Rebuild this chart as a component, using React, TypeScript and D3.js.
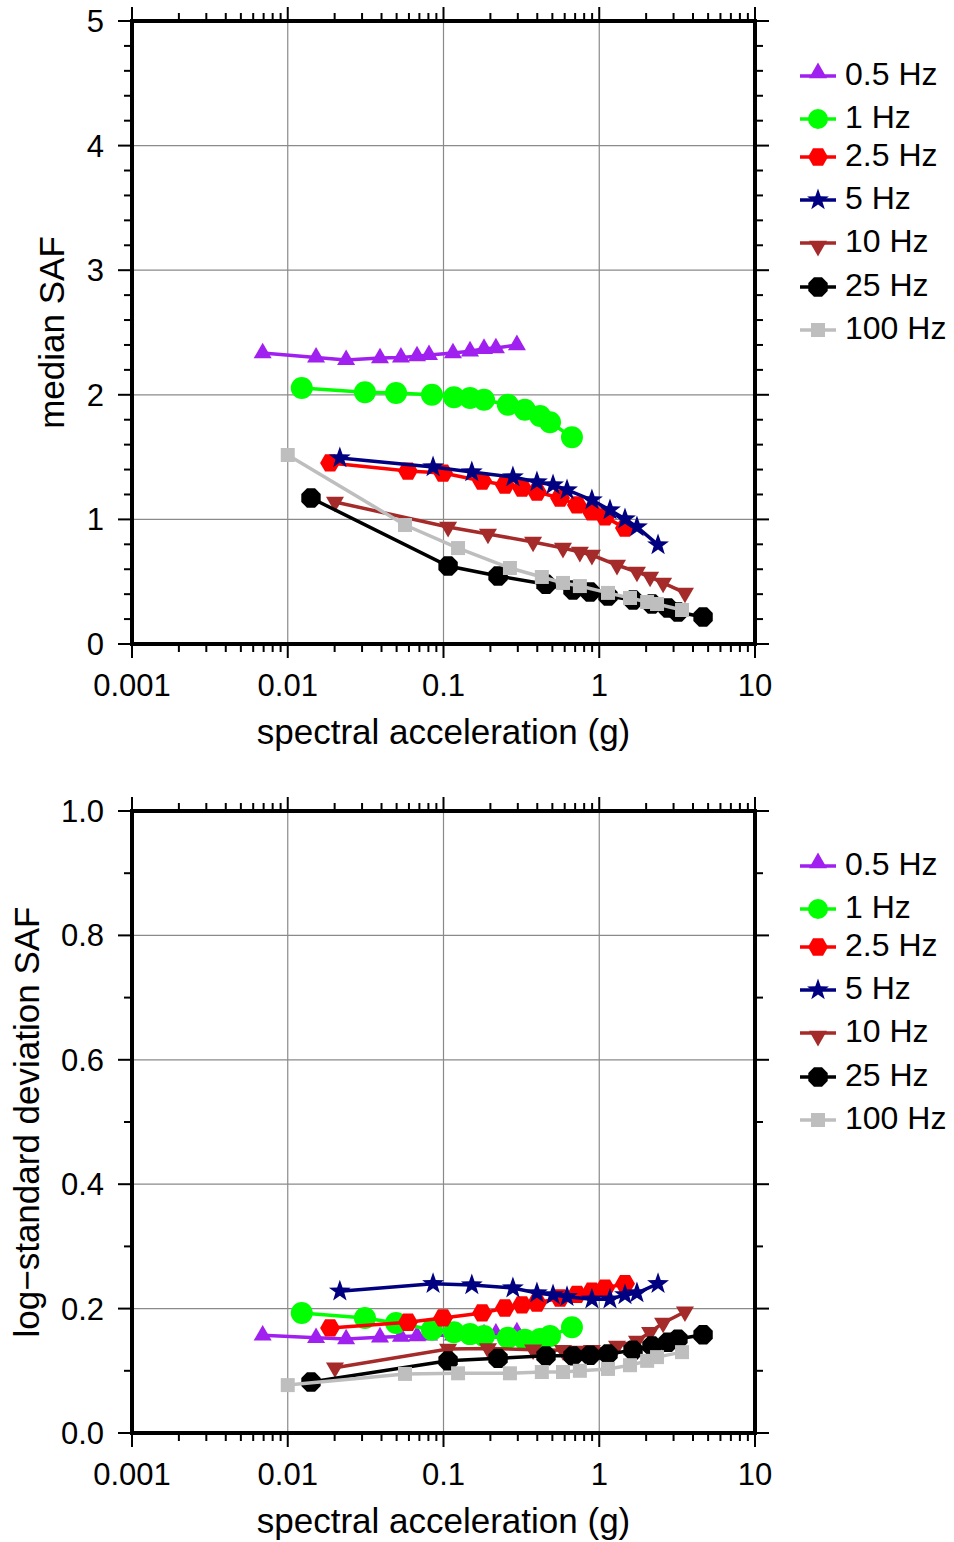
import React from "react";
import * as d3 from "d3";

// ---------- data ----------
const seriesNames = ["0.5 Hz", "1 Hz", "2.5 Hz", "5 Hz", "10 Hz", "25 Hz", "100 Hz"];
const seriesColors = ["#A020F0", "#00FF00", "#FF0000", "#000080", "#A52A2A", "#000000", "#BEBEBE"];
const seriesShapes = ["triUp", "circle", "hexagon", "star", "triDown", "octagon", "square"];

const sa05 = [0.0069, 0.0152, 0.0237, 0.0391, 0.0533, 0.0676, 0.0807, 0.115, 0.148, 0.182, 0.217, 0.296];
const sa1 = [0.0123, 0.0313, 0.0496, 0.0843, 0.1167, 0.148, 0.182, 0.259, 0.333, 0.417, 0.483, 0.668];
const sa25 = [0.0187, 0.0591, 0.0993, 0.177, 0.248, 0.319, 0.398, 0.56, 0.719, 0.897, 1.089, 1.463];
const sa5 = [0.0216, 0.0857, 0.152, 0.279, 0.398, 0.505, 0.621, 0.897, 1.172, 1.463, 1.746, 2.385];
const sa10 = [0.0201, 0.107, 0.193, 0.376, 0.585, 0.751, 0.897, 1.3, 1.746, 2.12, 2.57, 3.55];
const sa25Hz = [0.0141, 0.107, 0.224, 0.455, 0.678, 0.873, 1.138, 1.648, 2.18, 2.76, 3.2, 4.64];
const sa100 = [0.01, 0.0566, 0.124, 0.267, 0.428, 0.585, 0.751, 1.138, 1.575, 2.03, 2.35, 3.4];

const median05 = [2.335, 2.3, 2.28, 2.295, 2.3, 2.31, 2.32, 2.335, 2.35, 2.37, 2.375, 2.4];
const median1 = [2.055, 2.02, 2.015, 2.0, 1.98, 1.975, 1.96, 1.92, 1.88, 1.83, 1.78, 1.66];
const median25 = [1.453, 1.388, 1.372, 1.308, 1.276, 1.252, 1.22, 1.172, 1.116, 1.06, 1.02, 0.93];
const median5 = [1.493, 1.42, 1.38, 1.34, 1.3, 1.276, 1.236, 1.156, 1.075, 1.003, 0.939, 0.795];
const median10 = [1.14, 0.939, 0.883, 0.819, 0.77, 0.738, 0.714, 0.634, 0.578, 0.538, 0.49, 0.41];
const median25Hz = [1.172, 0.626, 0.546, 0.48, 0.433, 0.417, 0.385, 0.353, 0.321, 0.289, 0.257, 0.217];
const median100 = [1.517, 0.955, 0.77, 0.61, 0.538, 0.49, 0.465, 0.41, 0.369, 0.337, 0.321, 0.273];

const sigma05 = [0.157, 0.153, 0.151, 0.154, 0.155, 0.156, 0.157, 0.157, 0.158, 0.159, 0.16, 0.162];
const sigma1 = [0.193, 0.185, 0.177, 0.166, 0.162, 0.159, 0.156, 0.153, 0.15, 0.151, 0.156, 0.17];
const sigma25 = [0.169, 0.178, 0.185, 0.193, 0.201, 0.206, 0.209, 0.217, 0.223, 0.228, 0.233, 0.24];
const sigma5 = [0.228, 0.24, 0.238, 0.233, 0.225, 0.222, 0.219, 0.215, 0.215, 0.222, 0.225, 0.24];
const sigma10 = [0.105, 0.135, 0.136, 0.134, 0.133, 0.132, 0.133, 0.14, 0.148, 0.162, 0.177, 0.195];
const sigma25Hz = [0.082, 0.116, 0.12, 0.124, 0.124, 0.125, 0.127, 0.133, 0.14, 0.146, 0.151, 0.158];
const sigma100 = [0.077, 0.095, 0.096, 0.096, 0.098, 0.098, 0.1, 0.103, 0.109, 0.116, 0.122, 0.13];

const saSeries = [sa05, sa1, sa25, sa5, sa10, sa25Hz, sa100];
const medianSeries = [median05, median1, median25, median5, median10, median25Hz, median100];
const sigmaSeries = [sigma05, sigma1, sigma25, sigma5, sigma10, sigma25Hz, sigma100];

const xTickValues = [0.001, 0.01, 0.1, 1, 10];
const xTickLabels = ["0.001", "0.01", "0.1", "1", "10"];
const topYTicks = [0, 1, 2, 3, 4, 5];
const botYTicks = [0, 0.2, 0.4, 0.6, 0.8, 1.0];

const FONT = "'Liberation Sans', Arial, Helvetica, sans-serif";

// ---------- marker shapes ----------
function poly(pts: [number, number][]) {
  return "M" + pts.map((p) => p[0].toFixed(2) + "," + p[1].toFixed(2)).join("L") + "Z";
}
function markerPath(shape: string, cx: number, cy: number, legend = false): string {
  switch (shape) {
    case "triUp": {
      const w = 18, h = w * 0.866;
      return poly([[cx, cy - (2 * h) / 3], [cx + w / 2, cy + h / 3], [cx - w / 2, cy + h / 3]]);
    }
    case "triDown": {
      const w = 18, h = w * 0.866;
      return poly([[cx, cy + (2 * h) / 3], [cx + w / 2, cy - h / 3], [cx - w / 2, cy - h / 3]]);
    }
    case "circle": {
      const r = legend ? 10 : 11;
      return `M${cx - r},${cy}a${r},${r} 0 1,0 ${2 * r},0a${r},${r} 0 1,0 ${-2 * r},0Z`;
    }
    case "hexagon": {
      const R = 10;
      const pts: [number, number][] = [];
      for (let k = 0; k < 6; k++) {
        const a = (Math.PI / 3) * k;
        pts.push([cx + R * Math.cos(a), cy + R * Math.sin(a)]);
      }
      return poly(pts);
    }
    case "octagon": {
      const R = 10.5;
      const pts: [number, number][] = [];
      for (let k = 0; k < 8; k++) {
        const a = (Math.PI / 4) * k + Math.PI / 8;
        pts.push([cx + R * Math.cos(a), cy + R * Math.sin(a)]);
      }
      return poly(pts);
    }
    case "star": {
      const R = 11.5, r = 4.6;
      const pts: [number, number][] = [];
      for (let k = 0; k < 10; k++) {
        const a = -Math.PI / 2 + (Math.PI / 5) * k;
        const rr = k % 2 === 0 ? R : r;
        pts.push([cx + rr * Math.cos(a), cy + rr * Math.sin(a)]);
      }
      return poly(pts);
    }
    case "square": {
      const s = 14;
      return poly([[cx - s / 2, cy - s / 2], [cx + s / 2, cy - s / 2], [cx + s / 2, cy + s / 2], [cx - s / 2, cy + s / 2]]);
    }
  }
  return "";
}

// ---------- panel ----------
type PanelProps = {
  top: number;
  bottom: number;
  yMax: number;
  yTicks: number[];
  yMinorStep: number;
  yFmt: (v: number) => string;
  values: number[][];
  yTitle: string;
  yTitleX: number;
  legendYs: number[];
};

const LEFT = 132;
const RIGHT = 755;

function Panel(p: PanelProps) {
  const x = d3.scaleLog().domain([0.001, 10]).range([LEFT, RIGHT]);
  const y = d3.scaleLinear().domain([0, p.yMax]).range([p.bottom, p.top]);
  const line = d3
    .line<[number, number]>()
    .x((d) => x(d[0]))
    .y((d) => y(d[1]));

  const minorX: number[] = [];
  [0.001, 0.01, 0.1, 1].forEach((dec) => {
    for (let m = 2; m <= 9; m++) minorX.push(dec * m);
  });
  const minorY: number[] = [];
  const nMinor = Math.round(p.yMax / p.yMinorStep);
  for (let i = 0; i <= nMinor; i++) minorY.push(i * p.yMinorStep);

  const MAJ = 14;
  const MIN = 8;
  const gridColor = "#8a8a8a";

  return (
    <g>
      {/* grid */}
      {xTickValues.slice(1, -1).map((v) => (
        <line key={"gx" + v} x1={x(v)} x2={x(v)} y1={p.top} y2={p.bottom} stroke={gridColor} strokeWidth={1.2} />
      ))}
      {p.yTicks.slice(1, -1).map((v) => (
        <line key={"gy" + v} x1={LEFT} x2={RIGHT} y1={y(v)} y2={y(v)} stroke={gridColor} strokeWidth={1.2} />
      ))}

      {/* series */}
      {saSeries.map((xs, si) => {
        const pts: [number, number][] = xs.map((xv, i) => [xv, p.values[si][i]]);
        return (
          <g key={"s" + si}>
            <path d={line(pts) || ""} fill="none" stroke={seriesColors[si]} strokeWidth={3.5} />
            {pts.map((d, i) => (
              <path key={i} d={markerPath(seriesShapes[si], x(d[0]), y(d[1]))} fill={seriesColors[si]} />
            ))}
          </g>
        );
      })}

      {/* ticks x (bottom & top) */}
      {xTickValues.map((v) => (
        <g key={"tx" + v}>
          <line x1={x(v)} x2={x(v)} y1={p.bottom} y2={p.bottom + MAJ} stroke="#000" strokeWidth={2} />
          <line x1={x(v)} x2={x(v)} y1={p.top} y2={p.top - MAJ} stroke="#000" strokeWidth={2} />
        </g>
      ))}
      {minorX.map((v) => (
        <g key={"mx" + v}>
          <line x1={x(v)} x2={x(v)} y1={p.bottom} y2={p.bottom + MIN} stroke="#000" strokeWidth={2} />
          <line x1={x(v)} x2={x(v)} y1={p.top} y2={p.top - MIN} stroke="#000" strokeWidth={2} />
        </g>
      ))}
      {/* ticks y (left & right) */}
      {minorY.map((v) => {
        const isMajor = p.yTicks.some((t) => Math.abs(t - v) < 1e-9);
        const L = isMajor ? MAJ : MIN;
        return (
          <g key={"ty" + v}>
            <line x1={LEFT} x2={LEFT - L} y1={y(v)} y2={y(v)} stroke="#000" strokeWidth={2} />
            <line x1={RIGHT} x2={RIGHT + L} y1={y(v)} y2={y(v)} stroke="#000" strokeWidth={2} />
          </g>
        );
      })}

      {/* frame */}
      <rect x={LEFT} y={p.top} width={RIGHT - LEFT} height={p.bottom - p.top} fill="none" stroke="#000" strokeWidth={4} />

      {/* tick labels */}
      {xTickValues.map((v, i) => (
        <text key={"lx" + v} x={x(v)} y={p.bottom + 52} textAnchor="middle" fontSize={31} fontFamily={FONT} fill="#000">
          {xTickLabels[i]}
        </text>
      ))}
      {p.yTicks.map((v) => (
        <text key={"ly" + v} x={104} y={y(v) + 11} textAnchor="end" fontSize={31} fontFamily={FONT} fill="#000">
          {p.yFmt(v)}
        </text>
      ))}

      {/* axis titles */}
      <text x={(LEFT + RIGHT) / 2} y={p.bottom + 100} textAnchor="middle" fontSize={35} fontFamily={FONT} fill="#000">
        spectral acceleration (g)
      </text>
      <text
        transform={`translate(${p.yTitleX},${(p.top + p.bottom) / 2}) rotate(-90)`}
        textAnchor="middle"
        fontSize={35}
        fontFamily={FONT}
        fill="#000"
      >
        {p.yTitle}
      </text>

      {/* legend */}
      {seriesNames.map((name, si) => {
        const ly = p.legendYs[si];
        return (
          <g key={"lg" + si}>
            <line x1={800} x2={836} y1={ly} y2={ly} stroke={seriesColors[si]} strokeWidth={3.5} />
            <path d={markerPath(seriesShapes[si], 818, ly - (si === 0 ? 3 : si === 4 ? -3 : 0), true)} fill={seriesColors[si]} />
            <text x={845} y={ly + 9} fontSize={32} fontFamily={FONT} fill="#000">
              {name}
            </text>
          </g>
        );
      })}
    </g>
  );
}

const legendTop = [76, 119, 157, 200, 243, 287, 330];

export default function App() {
  return (
    <svg
      width={954}
      height={1542}
      viewBox="0 0 954 1542"
      style={{ position: "absolute", left: 0, top: 0, background: "#fff" }}
    >
      <rect x={0} y={0} width={954} height={1542} fill="#fff" />
      <Panel
        top={21}
        bottom={644}
        yMax={5}
        yTicks={topYTicks}
        yMinorStep={0.2}
        yFmt={(v) => String(v)}
        values={medianSeries}
        yTitle="median SAF"
        yTitleX={64}
        legendYs={legendTop}
      />
      <Panel
        top={811}
        bottom={1433}
        yMax={1}
        yTicks={botYTicks}
        yMinorStep={0.1}
        yFmt={(v) => v.toFixed(1)}
        values={sigmaSeries}
        yTitle="log−standard deviation SAF"
        yTitleX={39}
        legendYs={legendTop.map((v) => v + 790)}
      />
    </svg>
  );
}
